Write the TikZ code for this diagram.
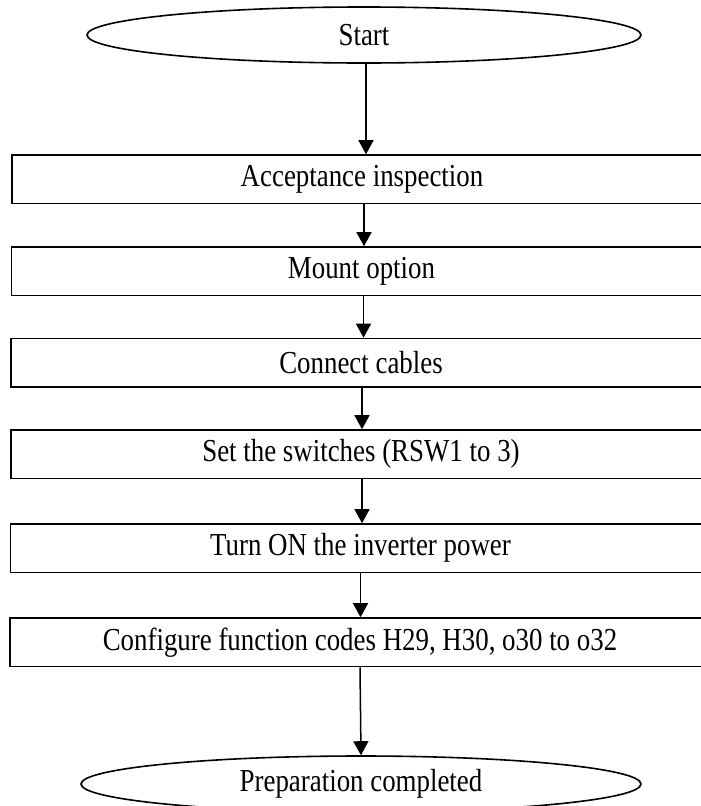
\documentclass[tikz,border=0pt]{standalone}
\usepackage{fontspec}
\setmainfont{Liberation Serif}[FakeStretch=0.84]
\usetikzlibrary{arrows.meta,shapes.geometric}
\begin{document}
\begin{tikzpicture}[x=1pt,y=-1pt,
  txt/.style={font=\fontsize{32}{36}\selectfont},
  stepbox/.style={txt,draw,line width=1.6pt,minimum width=700pt,minimum height=48.5pt,inner sep=0pt},
  term/.style={txt,draw,ellipse,line width=1.6pt,minimum width=554pt,minimum height=56pt,inner sep=0pt},
  arr/.style={line width=1.5pt,-{Triangle[width=15pt,length=14pt]}}]
\useasboundingbox (0,0) rectangle (701,806);
\node[term] (s) at (364,35) {Start};
\node[stepbox] (b1) at (362,179.25) {Acceptance inspection};
\node[stepbox] (b2) at (361.5,271.25) {Mount option};
\node[stepbox] (b3) at (361,362.75) {Connect cables};
\node[stepbox] (b4) at (361,454.25) {Set the switches (RSW1 to 3)};
\node[stepbox] (b5) at (360.5,548.25) {Turn ON the inverter power};
\node[stepbox] (b6) at (360,642.25) {Configure function codes H29, H30, o30 to o32};
\node[term,minimum width=560pt] (e) at (361,784) {Preparation completed};
\draw[arr] (s.south) ++(2,0) coordinate (a0) -- (a0 |- b1.north);
\draw[arr] (b1) ++(2,24.25) coordinate (a1) -- (a1 |- b2.north);
\draw[arr] (b2) ++(2,24.25) coordinate (a2) -- (a2 |- b3.north);
\draw[arr] (b3) ++(1,24.25) coordinate (a3) -- (a3 |- b4.north);
\draw[arr] (b4) ++(1,24.25) coordinate (a4) -- (a4 |- b5.north);
\draw[arr] (b5) ++(0,24.25) coordinate (a5) -- (a5 |- b6.north);
\draw[arr] (b6.south) -- (e.north);
\end{tikzpicture}
\end{document}
